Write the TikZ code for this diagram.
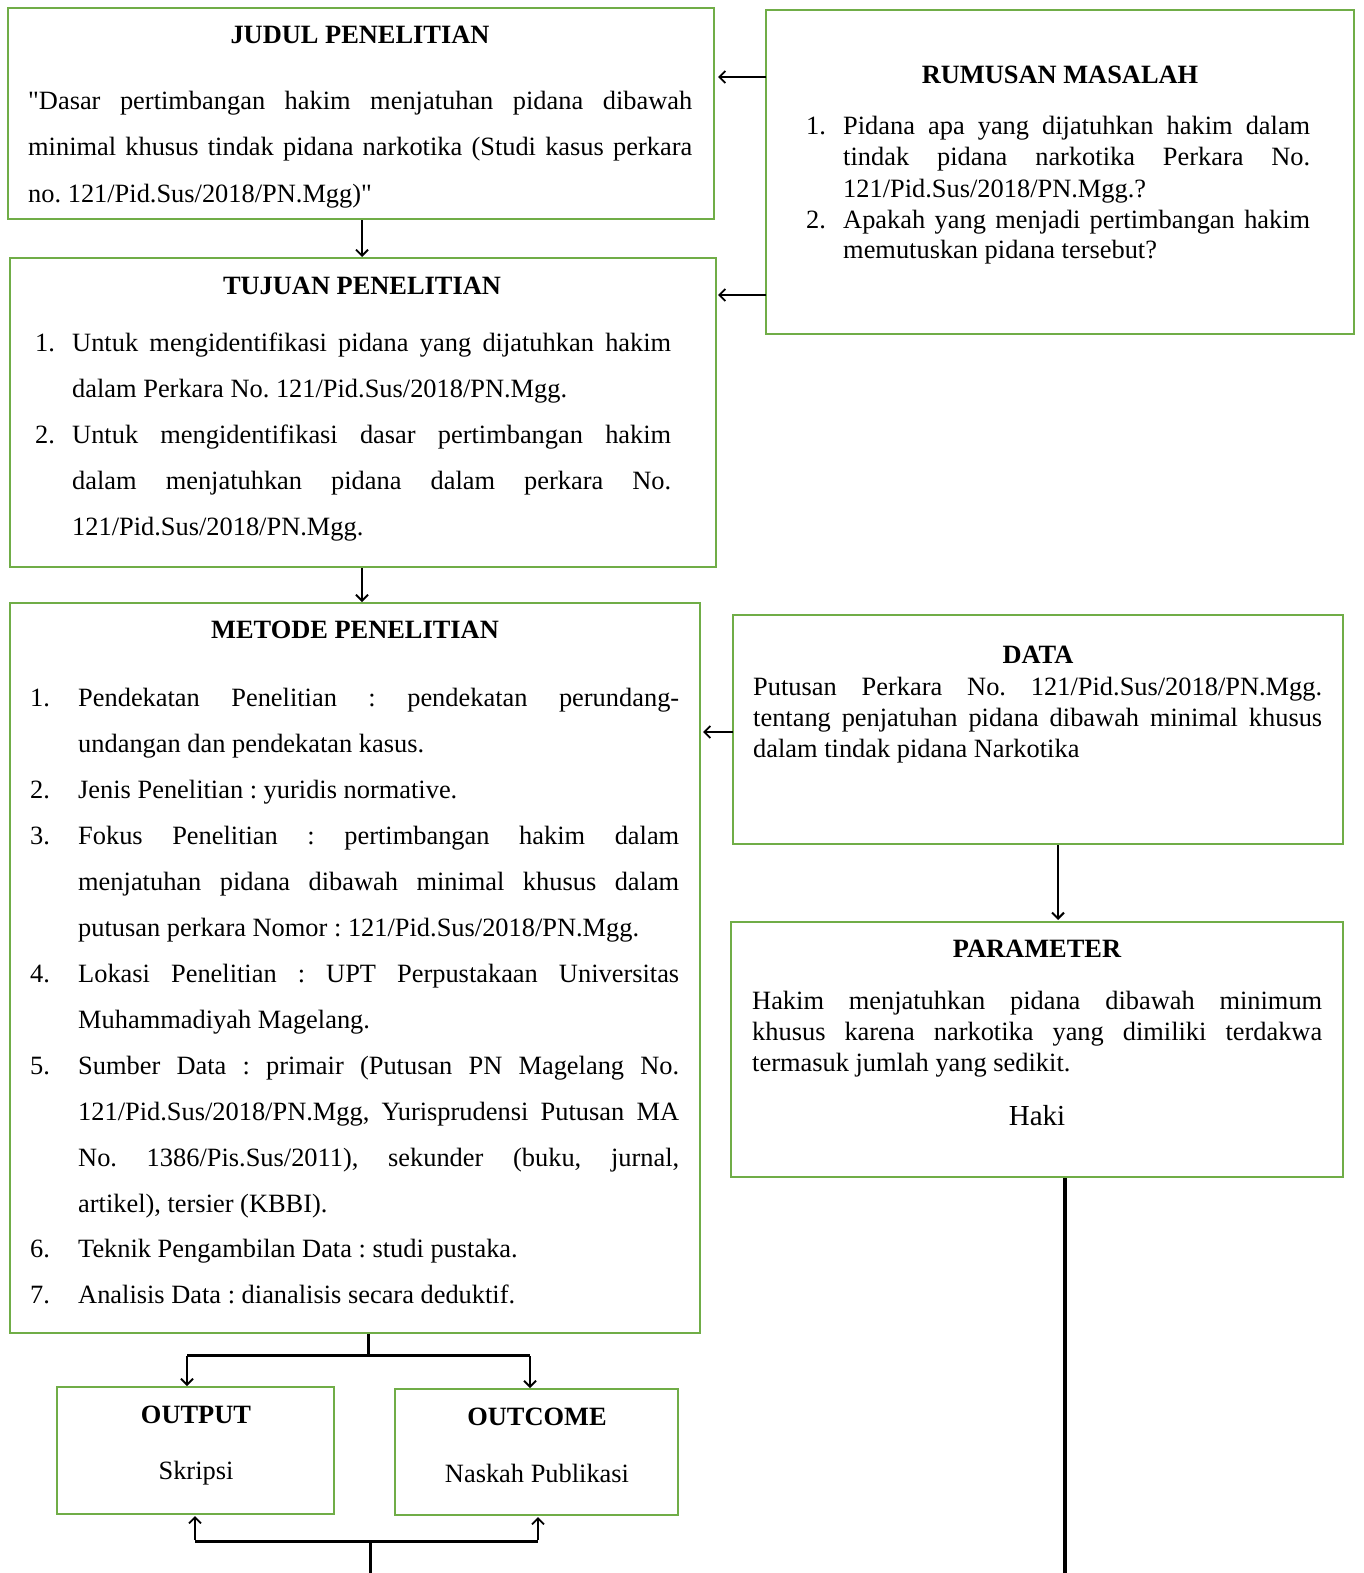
\documentclass[tikz,border=0pt]{standalone}
\usepackage{fontspec}
\setmainfont{Liberation Serif}
\usetikzlibrary{arrows.meta}
\definecolor{boxgreen}{RGB}{112,173,71}
\newcommand{\bodyfont}{\fontsize{26.4}{30}\selectfont\frenchspacing}
\newcommand{\titlefont}{\fontsize{26.4}{30}\selectfont\bfseries}
\newcommand{\jus}[2]{\makebox[#1][s]{#2}}
\begin{document}
\begin{tikzpicture}[x=1pt,y=-1pt,
  box/.style={draw=boxgreen,line width=2.5pt},
  txt/.style={anchor=base west,inner sep=0pt,font=\bodyfont},
  ttl/.style={anchor=base,inner sep=0pt,font=\titlefont},
  arr/.style={line width=2pt,-{Straight Barb[length=6pt,width=12pt,line width=1.8pt]}},
  conn/.style={line width=3pt}]
\useasboundingbox (0,0) rectangle (1363,1573);
% boxes
\draw[box] (8,8) rectangle (714,219);
\draw[box] (766,10) rectangle (1354,334);
\draw[box] (10,258) rectangle (716,567);
\draw[box] (10,603) rectangle (700,1333);
\draw[box] (733,615) rectangle (1343,844);
\draw[box] (731,922) rectangle (1343,1177);
\draw[box] (57,1387) rectangle (334,1514);
\draw[box] (395,1389) rectangle (678,1515);
% JUDUL
\node[ttl] (t1) at (360,44) {JUDUL PENELITIAN};
\node[txt] (j1) at (28,110) {\jus{664pt}{\textquotedbl Dasar pertimbangan hakim menjatuhan pidana dibawah}};
\node[txt] (j2) at (28,156) {\jus{664pt}{minimal khusus tindak pidana narkotika (Studi kasus perkara}};
\node[txt] (j3) at (28,202) {no. 121/Pid.Sus/2018/PN.Mgg)\textquotedbl};
% RUMUSAN
\node[ttl] (t2) at (1060,84) {RUMUSAN MASALAH};
\node[txt] (r1n) at (806,135) {1.};
\node[txt] (r1) at (843,135) {\jus{467pt}{Pidana apa yang dijatuhkan hakim dalam}};
\node[txt] (r2) at (843,166) {\jus{467pt}{tindak pidana narkotika Perkara No.}};
\node[txt] (r3) at (843,197) {121/Pid.Sus/2018/PN.Mgg.?};
\node[txt] (r4n) at (806,228) {2.};
\node[txt] (r4) at (843,228) {\jus{467pt}{Apakah yang menjadi pertimbangan hakim}};
\node[txt] (r5) at (843,258) {memutuskan pidana tersebut?};
% TUJUAN
\node[ttl] (t3) at (362,294) {TUJUAN PENELITIAN};
\node[txt] (u1n) at (35,351) {1.};
\node[txt] (u1) at (72,351) {\jus{599pt}{Untuk mengidentifikasi pidana yang dijatuhkan hakim}};
\node[txt] (u2) at (72,397) {dalam Perkara No. 121/Pid.Sus/2018/PN.Mgg.};
\node[txt] (u3n) at (35,443) {2.};
\node[txt] (u3) at (72,443) {\jus{599pt}{Untuk mengidentifikasi dasar pertimbangan hakim}};
\node[txt] (u4) at (72,489) {\jus{599pt}{dalam menjatuhkan pidana dalam perkara No.}};
\node[txt] (u5) at (72,535) {121/Pid.Sus/2018/PN.Mgg.};
% METODE
\node[ttl] (t4) at (355,638) {METODE PENELITIAN};
\node[txt] (m1n) at (30,706) {1.};
\node[txt] (m1) at (78,706) {\jus{601pt}{Pendekatan Penelitian : pendekatan perundang-}};
\node[txt] (m2) at (78,752) {undangan dan pendekatan kasus.};
\node[txt] (m3n) at (30,798) {2.};
\node[txt] (m3) at (78,798) {Jenis Penelitian : yuridis normative.};
\node[txt] (m4n) at (30,844) {3.};
\node[txt] (m4) at (78,844) {\jus{601pt}{Fokus Penelitian : pertimbangan hakim dalam}};
\node[txt] (m5) at (78,890) {\jus{601pt}{menjatuhan pidana dibawah minimal khusus dalam}};
\node[txt] (m6) at (78,936) {putusan perkara Nomor : 121/Pid.Sus/2018/PN.Mgg.};
\node[txt] (m7n) at (30,982) {4.};
\node[txt] (m7) at (78,982) {\jus{601pt}{Lokasi Penelitian : UPT Perpustakaan Universitas}};
\node[txt] (m8) at (78,1028) {Muhammadiyah Magelang.};
\node[txt] (m9n) at (30,1074) {5.};
\node[txt] (m9) at (78,1074) {\jus{601pt}{Sumber Data : primair (Putusan PN Magelang No.}};
\node[txt] (m10) at (78,1120) {\jus{601pt}{121/Pid.Sus/2018/PN.Mgg, Yurisprudensi Putusan MA}};
\node[txt] (m11) at (78,1166) {\jus{601pt}{No. 1386/Pis.Sus/2011), sekunder (buku, jurnal,}};
\node[txt] (m12) at (78,1212) {artikel), tersier (KBBI).};
\node[txt] (m13n) at (30,1257) {6.};
\node[txt] (m13) at (78,1257) {Teknik Pengambilan Data : studi pustaka.};
\node[txt] (m14n) at (30,1303) {7.};
\node[txt] (m14) at (78,1303) {Analisis Data : dianalisis secara deduktif.};
% DATA
\node[ttl] (t5) at (1038,663) {DATA};
\node[txt] (d1) at (753,695) {\jus{569pt}{Putusan Perkara No. 121/Pid.Sus/2018/PN.Mgg.}};
\node[txt] (d2) at (753,726) {\jus{569pt}{tentang penjatuhan pidana dibawah minimal khusus}};
\node[txt] (d3) at (753,757) {dalam tindak pidana Narkotika};
% PARAMETER
\node[ttl] (t6) at (1037,957) {PARAMETER};
\node[txt] (p1) at (752,1009) {\jus{570pt}{Hakim menjatuhkan pidana dibawah minimum}};
\node[txt] (p2) at (752,1040) {\jus{570pt}{khusus karena narkotika yang dimiliki terdakwa}};
\node[txt] (p3) at (752,1071) {termasuk jumlah yang sedikit.};
\node[anchor=base,inner sep=0pt,font=\fontsize{29}{32}\selectfont] (p4) at (1037,1125) {Haki};
% OUTPUT / OUTCOME
\node[ttl] (t7) at (196,1423) {OUTPUT};
\node[anchor=base,inner sep=0pt,font=\bodyfont] (o1) at (196,1479) {Skripsi};
\node[ttl] (t8) at (537,1425) {OUTCOME};
\node[anchor=base,inner sep=0pt,font=\bodyfont] (o2) at (537,1482) {Naskah Publikasi};
% connectors
\coordinate (rumA) at (766,77); \coordinate (judA) at (718,77);
\coordinate (rumB) at (766,295); \coordinate (tujB) at (718,295);
\draw[arr] (rumA) -- (judA);
\draw[arr] (rumB) -- (tujB);
\coordinate (judBot) at (362,220); \coordinate (tujTop) at (362,257);
\draw[arr] (judBot) -- (tujTop);
\coordinate (tujBot) at (362,568); \coordinate (metTop) at (362,602);
\draw[arr] (tujBot) -- (metTop);
\coordinate (datL) at (733,732); \coordinate (metR) at (703,732);
\draw[arr] (datL) -- (metR);
\coordinate (datBot) at (1058,845); \coordinate (parTop) at (1058,920);
\draw[line width=2.5pt,-{Straight Barb[length=6pt,width=12pt,line width=2pt]}] (datBot) -- (parTop);
% METODE branch
\coordinate (metBot) at (368,1334); \coordinate (brJ) at (368,1355);
\coordinate (brL) at (187,1355); \coordinate (brR) at (530,1355);
\coordinate (outTop) at (187,1386); \coordinate (ocTop) at (530,1388);
\draw[conn] (metBot) -- (brJ);
\draw[conn] (brL) -- (brR);
\draw[arr] ([yshift=-1pt]brL) -- (outTop);
\draw[arr] ([yshift=-1pt]brR) -- (ocTop);
% bottom branch
\coordinate (botS) at (370,1573); \coordinate (botJ) at (370,1541);
\coordinate (botL) at (195,1541); \coordinate (botR) at (538,1541);
\coordinate (outBot) at (195,1516); \coordinate (ocBot) at (538,1517);
\draw[conn] (botS) -- (botJ);
\draw[conn] (botL) -- (botR);
\draw[arr] ([yshift=1pt]botL) -- (outBot);
\draw[arr] ([yshift=1pt]botR) -- (ocBot);
% right long line
\coordinate (parBot) at (1065,1178); \coordinate (parEnd) at (1065,1573);
\draw[line width=3.5pt] (parBot) -- (parEnd);
\end{tikzpicture}
\end{document}
